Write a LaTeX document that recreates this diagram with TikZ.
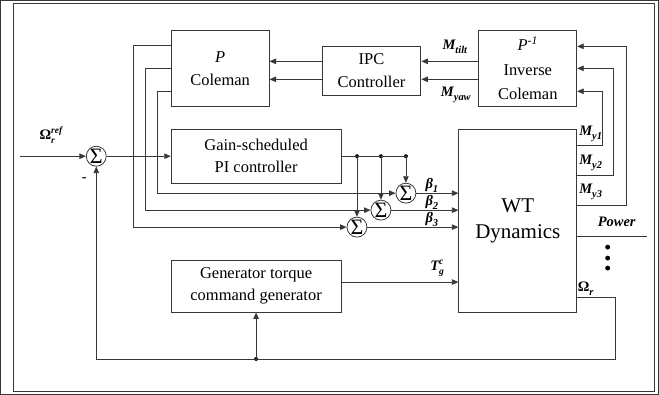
\documentclass[tikz,border=0pt]{standalone}
\usepackage{fontspec}
\setmainfont{Liberation Serif}
\usetikzlibrary{arrows.meta}
\definecolor{ln}{gray}{0.22}
\newcommand{\ssup}[3]{#1\rlap{\raisebox{-0.28em}{\fontsize{9.5}{9.5}\selectfont #2}}\raisebox{0.45em}{\fontsize{9.5}{9.5}\selectfont #3}}
\newcommand{\ssub}[2]{#1\raisebox{-0.28em}{\fontsize{10.5}{10.5}\selectfont #2}}
\begin{document}
\begin{tikzpicture}[x=1pt,y=-1pt,line width=0.8pt,
  box/.style={draw=ln,line width=0.9pt,inner sep=0pt,align=center,font=\fontsize{16.5}{23}\selectfont},
  sumn/.style={circle,draw=ln,line width=0.8pt,minimum size=20pt,inner sep=0pt,font=\fontsize{22}{22}\selectfont},
  arr/.style={-{Triangle[length=6.5pt,width=5.5pt]}},
  lbl/.style={font=\fontsize{14.5}{14.5}\selectfont\bfseries\itshape,inner sep=0pt},
  dotn/.style={circle,fill=black,inner sep=0pt,minimum size=4pt},
  every path/.append style={draw=ln}]
\useasboundingbox (0,0) rectangle (659,394);
\draw[line width=1pt] (13,3) rectangle (655,392);
% blocks
\node[box,minimum width=98pt,minimum height=76pt] (P) at (220,68) {\textit{P}\\Coleman};
\node[box,minimum width=99pt,minimum height=49pt] (IPC) at (371.5,70.5) {IPC\\Controller};
\node[box,minimum width=98pt,minimum height=76pt,font=\fontsize{16.5}{24.5}\selectfont] (Inv) at (528,68) {\textit{P}\textsuperscript{\textit{-1}}\\Inverse\\Coleman};
\node[box,minimum width=170pt,minimum height=54pt,font=\fontsize{16.5}{22}\selectfont] (PI) at (256,156) {Gain-scheduled\\PI controller};
\node[box,minimum width=170pt,minimum height=52pt,font=\fontsize{16.5}{22}\selectfont] (Gen) at (256,286) {Generator torque\\command generator};
\node[box,minimum width=118pt,minimum height=183pt,font=\fontsize{21}{26}\selectfont] (WT) at (518,220.5) {WT\\Dynamics};
% summers
\node[sumn] (s0) at (96,156) {\raisebox{-0.5pt}{Σ}};
\node[sumn] (s1) at (406,193) {\raisebox{-0.5pt}{Σ}};
\node[sumn] (s2) at (381,210) {\raisebox{-0.5pt}{Σ}};
\node[sumn] (s3) at (357,227) {\raisebox{-0.5pt}{Σ}};
\node[dotn] (d1) at (406,156) {};
\node[dotn] (d2) at (381,156) {};
\node[dotn] (d3) at (357,156) {};
\node[dotn] (fb) at (256,359) {};
\coordinate (in) at (20,156);
% input and PI
\draw[arr] (in) -- (s0);
\draw[arr] (s0) -- (PI);
\draw (PI.east) -- (d1.center);
\draw[arr] (d1.center) -- (s1);
\draw[arr] (d2.center) -- (s2);
\draw[arr] (d3.center) -- (s3);
\draw[arr] (s1) -- (s1 -| WT.west);
\draw[arr] (s2) -- (s2 -| WT.west);
\draw[arr] (s3) -- (s3 -| WT.west);
% P Coleman outputs
\draw[arr] ([yshift=23pt]P.west) -- (133,45) |- (s3);
\draw[arr] (P.west) -- (145,68) |- (s2);
\draw[arr] ([yshift=-23pt]P.west) -- (157,91) |- (s1);
% IPC chain
\draw[arr] (Inv.west |- 0,61) -- (IPC.east |- 0,61);
\draw[arr] (Inv.west |- 0,79) -- (IPC.east |- 0,79);
\draw[arr] (IPC.west |- 0,61) -- (P.east |- 0,61);
\draw[arr] (IPC.west |- 0,79) -- (P.east |- 0,79);
% measurements
\draw[arr] (WT.east |- 0,145) -- (603,145) |- ([yshift=-23pt]Inv.east);
\draw[arr] (WT.east |- 0,175) -- (614,175) |- (Inv.east);
\draw[arr] (WT.east |- 0,205) -- (627,205) |- ([yshift=22pt]Inv.east);
\draw (WT.east |- 0,236) -- (647,236);
\fill[black] (608,247) circle (2pt) (608,258) circle (2pt) (608,268) circle (2pt);
% feedback
\draw[arr] (WT.east |- 0,297) -- (616,297) |- (fb.center) -| (s0);
\draw[arr] (fb.center) -- (Gen.south);
\draw[arr] ([yshift=4pt]Gen.east) -- ([yshift=4pt]Gen.east -| WT.west);
% labels
\node[lbl,font=\fontsize{14.5}{14.5}\selectfont\bfseries] at (51,135) {\ssup{Ω}{\textit{r}}{\textit{ref}}};
\node[lbl,font=\fontsize{14}{14}\selectfont\bfseries] at (84,179) {-};
\node[lbl] at (455,46) {\ssub{M}{tilt}};
\node[lbl] at (456,95) {\ssub{M}{yaw}};
\node[lbl] at (432,185) {\ssub{β}{1}};
\node[lbl] at (432,202) {\ssub{β}{2}};
\node[lbl] at (432,219) {\ssub{β}{3}};
\node[lbl] at (437,268) {\ssup{T}{g}{c}};
\node[lbl] at (591,134) {\ssub{M}{y1}};
\node[lbl] at (591,163) {\ssub{M}{y2}};
\node[lbl] at (591,192) {\ssub{M}{y3}};
\node[lbl] at (617,222) {Power};
\node[lbl,font=\fontsize{14.5}{14.5}\selectfont\bfseries] at (586,289) {\ssub{Ω}{\textit{r}}};
\end{tikzpicture}
\end{document}
